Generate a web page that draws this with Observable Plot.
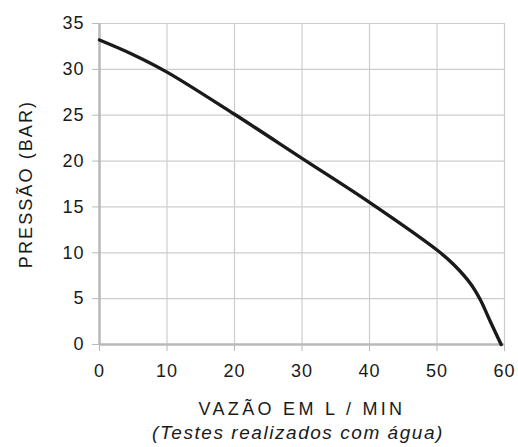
<!DOCTYPE html>
<html>
<head>
<meta charset="utf-8">
<script src="https://cdn.jsdelivr.net/npm/d3@7"></script>
<script src="https://cdn.jsdelivr.net/npm/@observablehq/plot@0.6"></script>
<style>
  html, body { margin: 0; padding: 0; background: #fff; }
  #chart svg { display: block; }
  #chart svg text { letter-spacing: 1px; }
  #chart svg g[aria-label="x-axis label"] text { letter-spacing: 3.3px; }
  #chart svg g[aria-label="y-axis label"] text { letter-spacing: 2.1px; }
  #caption {
    width: 518px; box-sizing: border-box; padding-left: 78px;
    text-align: center; font-family: "Liberation Sans", Arial, sans-serif;
    font-style: italic; font-size: 19px; letter-spacing: 1.55px; color: #1a1a1a;
    margin-top: 2px; line-height: 22px;
  }
</style>
</head>
<body>
<div id="chart"></div>
<div id="caption"></div>
<script>
const flow = [0, 5, 10, 20, 30, 40, 50, 52.5, 55, 56.4, 57.9, 59.5];
const pressure = [33.2, 31.6, 29.7, 25.1, 20.3, 15.5, 10.3, 8.7, 6.6, 4.9, 2.5, 0];
const xTicks = [0, 10, 20, 30, 40, 50, 60];
const yTicks = [0, 5, 10, 15, 20, 25, 30, 35];
const xLabel = "VAZÃO EM L / MIN";
const yLabel = "PRESSÃO (BAR)";
const captionText = "(Testes realizados com água)";

const data = flow.map((x, i) => ({x, y: pressure[i]}));

const gridColor = "#cdcdd1";
const axisColor = "#b8b8bd";

const chart = Plot.plot({
  width: 518,
  height: 420,
  marginLeft: 99,
  marginRight: 14,
  marginTop: 23,
  marginBottom: 76,
  style: {fontFamily: "'Liberation Sans', Arial, sans-serif", fontSize: "18px", color: "#1a1a1a", background: "#fff"},
  x: {domain: [0, 60]},
  y: {domain: [0, 35]},
  marks: [
    Plot.gridX(xTicks, {stroke: gridColor, strokeOpacity: 1, strokeWidth: 1.2}),
    Plot.gridY(yTicks, {stroke: gridColor, strokeOpacity: 1, strokeWidth: 1.2}),
    Plot.ruleX([0], {stroke: axisColor, strokeWidth: 2.5}),
    Plot.ruleY([0], {stroke: axisColor, strokeWidth: 2.5}),
    Plot.axisX({ticks: xTicks, tickSize: 7, tickPadding: 13, stroke: axisColor, strokeOpacity: 1,
      label: xLabel, labelAnchor: "center", labelArrow: "none", labelOffset: 70}),
    Plot.axisY({ticks: yTicks, tickSize: 7, tickPadding: 8, stroke: axisColor, strokeOpacity: 1,
      label: yLabel, labelAnchor: "center", labelArrow: "none", labelOffset: 80}),
    Plot.line(data, {x: "x", y: "y", curve: "catmull-rom", stroke: "#1a1a1a", strokeWidth: 3.4})
  ]
});
document.getElementById("chart").appendChild(chart);
document.getElementById("caption").textContent = captionText;
</script>
</body>
</html>
